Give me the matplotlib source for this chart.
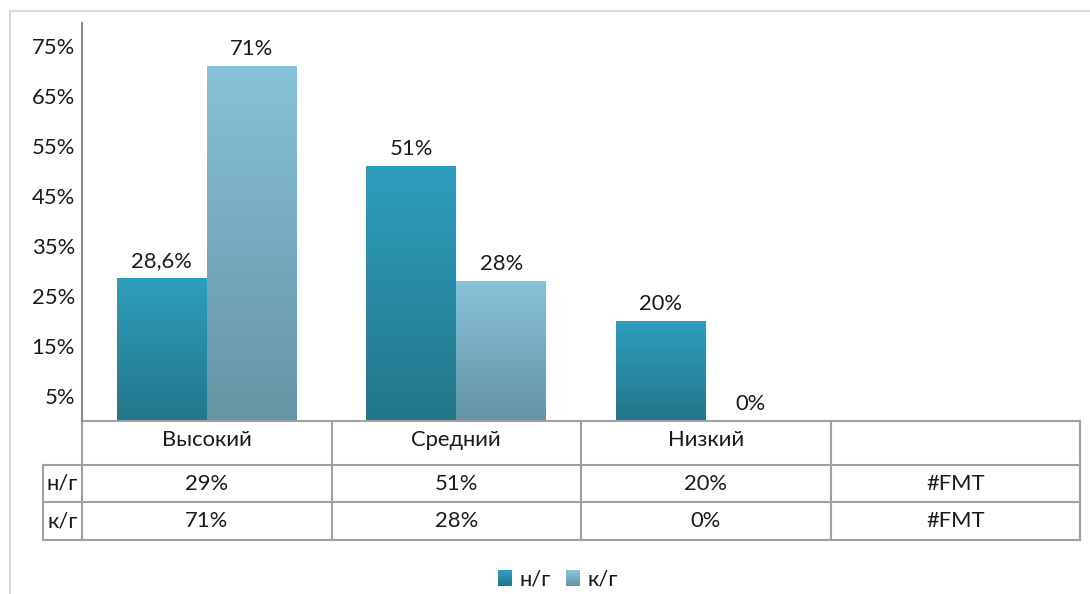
import numpy as np
import matplotlib
matplotlib.use("Agg")
import matplotlib.pyplot as plt
import matplotlib.transforms as mtransforms
from matplotlib.colors import LinearSegmentedColormap
from matplotlib.patches import Rectangle, Patch
from matplotlib.legend_handler import HandlerBase

plt.rcParams['font.family'] = ['Lato', 'DejaVu Sans']
plt.rcParams['text.color'] = '#1a1a1a'

categories = ['Высокий', 'Средний', 'Низкий', '']
series_names = ['н/г', 'к/г']
values_ng = [28.6, 51, 20, np.nan]
values_kg = [71, 28, 0, np.nan]
y_ticks = [5, 15, 25, 35, 45, 55, 65, 75]

# gradient colours, bottom -> top
grad_ng = ('#22768A', '#2E9EBD')
grad_kg = ('#6694A4', '#88C1D9')
grid_col = '#A0A0A0'
fs = 15.8


def pct_label(v):
    if v == int(v):
        return '%d%%' % v
    return ('%.1f%%' % v).replace('.', ',')


def table_label(v):
    if np.isnan(v):
        return '#FMT'
    return '%d%%' % round(v)


class GradientHandler(HandlerBase):
    def __init__(self, colors):
        super().__init__()
        self.colors = colors

    def create_artists(self, legend, orig_handle, xdescent, ydescent, width, height, fontsize, trans):
        cmap = LinearSegmentedColormap.from_list('g', self.colors)
        n = 12
        arts = []
        for i in range(n):
            r = Rectangle((-xdescent, -ydescent + i * height / n), width, height / n + 0.3,
                          facecolor=cmap(i / (n - 1)), edgecolor='none', transform=trans)
            arts.append(r)
        return arts


fig = plt.figure(figsize=(10.9, 5.94), dpi=100)
W, H = 1090, 594
ax = fig.add_axes([82 / W, 1 - 421 / H, 998 / W, 398 / H])

x = np.arange(len(categories))
bw = 0.36
bars_ng = ax.bar(x - bw / 2, np.nan_to_num(values_ng), bw, facecolor='none', edgecolor='none', zorder=2)
bars_kg = ax.bar(x + bw / 2, np.nan_to_num(values_kg), bw, facecolor='none', edgecolor='none', zorder=2)

grad = np.linspace(0, 1, 256).reshape(-1, 1)
for bars, vals, cols in [(bars_ng, values_ng, grad_ng), (bars_kg, values_kg, grad_kg)]:
    cmap = LinearSegmentedColormap.from_list('g', cols)
    for rect, v in zip(bars, vals):
        if np.isnan(v):
            continue
        x0 = rect.get_x()
        h = rect.get_height()
        if h > 0:
            ax.imshow(grad, extent=[x0, x0 + rect.get_width(), 0, h], origin='lower',
                      aspect='auto', cmap=cmap, zorder=2)
        ax.annotate(pct_label(v), (x0 + rect.get_width() / 2, h), xytext=(0, 5),
                    textcoords='offset points', ha='center', va='bottom', fontsize=fs)

ax.set_xlim(-0.5, len(categories) - 0.5)
ax.set_ylim(0, 79.6)
ax.set_yticks(y_ticks)
ax.set_yticklabels(['%d%%' % t for t in y_ticks])
ax.set_xticks([])
ax.tick_params(axis='y', length=0, pad=5, labelsize=fs, labelcolor='#1a1a1a')
for s in ['top', 'right', 'bottom']:
    ax.spines[s].set_visible(False)
ax.spines['left'].set_color('#8c8c8c')
ax.spines['left'].set_linewidth(1.5)

# data table under the axis (x in data units, y in axes fraction)
trans = mtransforms.blended_transform_factory(ax.transData, ax.transAxes)
n = len(categories)
ax_h = 398.0
row_edges = [0, -44 / ax_h, -81 / ax_h, -119 / ax_h]
lab_left = -0.5 - 39 / 249.5
col_edges = [c - 0.5 for c in range(n + 1)]
line_kw = dict(color=grid_col, lw=1.5, transform=trans, clip_on=False, solid_capstyle='projecting')

ax.plot([-0.5, n - 0.5], [0, 0], **line_kw)
for yy in row_edges[1:]:
    ax.plot([lab_left, n - 0.5], [yy, yy], **line_kw)
for xx in col_edges:
    ax.plot([xx, xx], [0, row_edges[-1]], **line_kw)
ax.plot([lab_left, lab_left], [row_edges[1], row_edges[-1]], **line_kw)

for c, cat in enumerate(categories):
    ax.text(c, (row_edges[0] + row_edges[1]) / 2 + 3 / ax_h, cat, transform=trans,
            ha='center', va='center', fontsize=fs)
rows = [values_ng, values_kg]
for r, name in enumerate(series_names):
    yc = (row_edges[r + 1] + row_edges[r + 2]) / 2
    ax.text((lab_left - 0.5) / 2, yc, name, transform=trans, ha='center', va='center', fontsize=fs)
    for c in range(n):
        ax.text(c, yc, table_label(rows[r][c]), transform=trans,
                ha='center', va='center', fontsize=fs)

# outer frame of the chart area
fig.patches.append(Rectangle((10 / W, -0.1), 1.2, (H - 11) / H + 0.1, transform=fig.transFigure,
                             fill=False, edgecolor='#D9D9D9', linewidth=1.5))

handles = [Patch(label=series_names[0]), Patch(label=series_names[1])]
fig.legend(handles=handles, loc='center', bbox_to_anchor=(558 / W, 1 - 580 / H), ncol=2,
           frameon=False, fontsize=fs, handlelength=0.62, handleheight=0.75,
           handletextpad=0.35, columnspacing=0.7,
           handler_map={handles[0]: GradientHandler(grad_ng), handles[1]: GradientHandler(grad_kg)})

fig.savefig('out.png', dpi=100)
